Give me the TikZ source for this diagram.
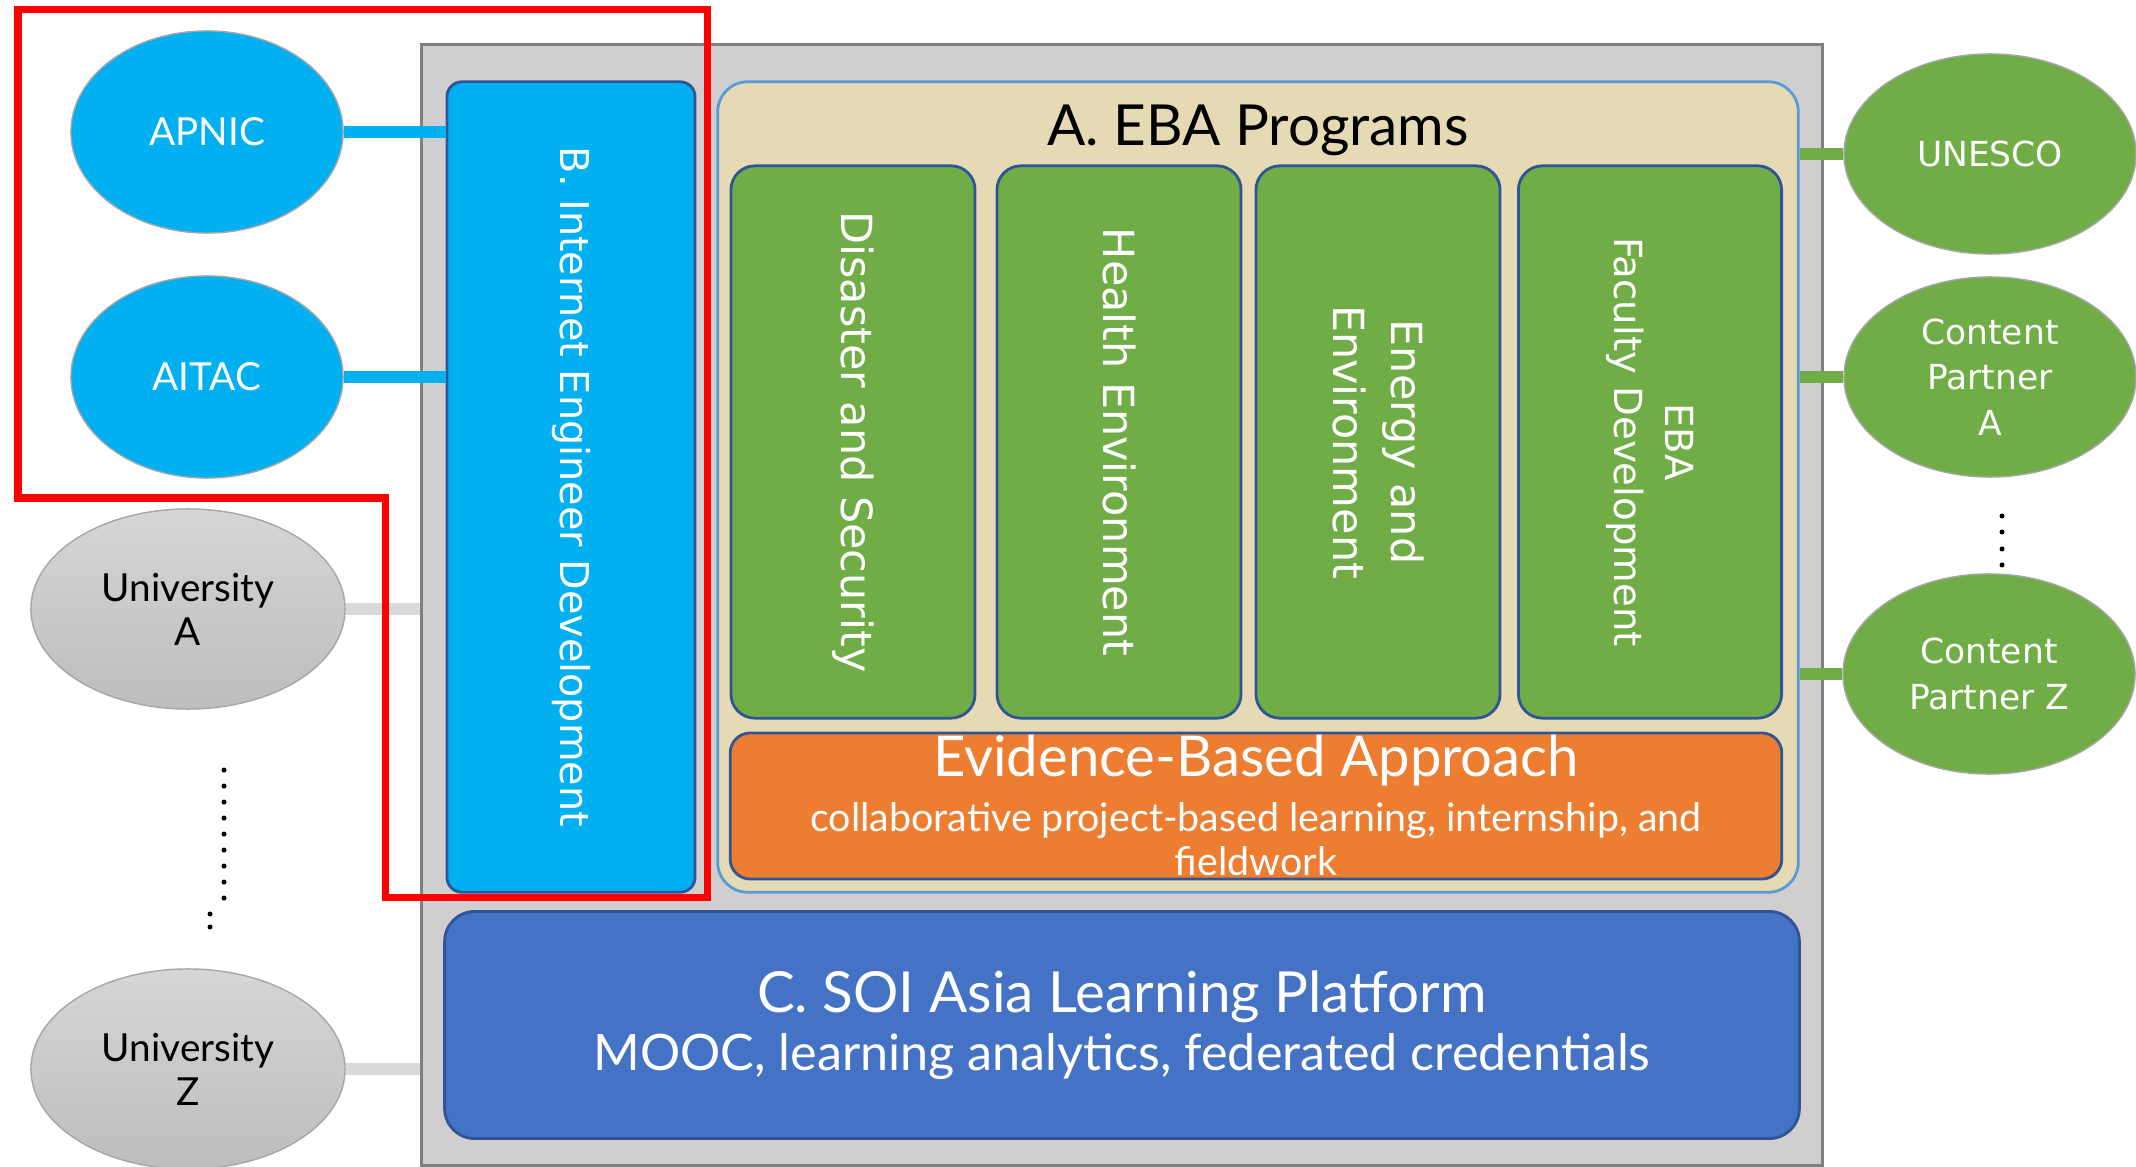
\documentclass[tikz,border=0pt]{standalone}
\usepackage{fontspec}
\setmainfont{Lato}
\newfontfamily\widefont{DejaVu Sans}
\usetikzlibrary{shapes.geometric}
\definecolor{soigray}{HTML}{D0CECE}
\definecolor{framegray}{HTML}{7F7F7F}
\definecolor{ieblue}{HTML}{00B0F0}
\definecolor{edgeblue}{HTML}{2F5597}
\definecolor{ebatan}{HTML}{E6DAB4}
\definecolor{tanline}{HTML}{5B9BD5}
\definecolor{ebagreen}{HTML}{70AD47}
\definecolor{ebaorange}{HTML}{ED7D31}
\definecolor{lpblue}{HTML}{4472C4}
\definecolor{unitop}{HTML}{D6D6D6}
\definecolor{unibot}{HTML}{BDBDBD}
\definecolor{unilink}{HTML}{D9D9D9}
\newcommand{\setfs}[2]{\fontsize{#1}{#2}\selectfont}
\begin{document}
\begin{tikzpicture}[x=0.01cm, y=-0.01cm,
  box/.style={rectangle, draw=edgeblue, line width=0.8pt, rounded corners=0.24cm, inner sep=0pt},
  prog/.style={box, fill=ebagreen, minimum width=2.44cm, minimum height=5.52cm},
  vtext/.style={rotate=-90, text=white, align=center, font=\widefont\setfs{12.2pt}{15.5pt}},
  blueorg/.style={ellipse, draw=gray!70, fill=ieblue, minimum width=2.72cm, minimum height=2.02cm, text=white, font=\setfs{11pt}{13pt}},
  uni/.style={ellipse, draw=gray!70, top color=unitop, bottom color=unibot, minimum width=3.14cm, minimum height=2cm, align=center, font=\setfs{11pt}{12.5pt}},
  partner/.style={ellipse, draw=gray!70, fill=ebagreen, minimum width=2.92cm, minimum height=2cm, text=white, align=center, font=\widefont\setfs{9.8pt}{13pt}},
  link/.style={-, line width=0.12cm}]
\useasboundingbox (0,0) rectangle (2136,1167);

\node[rectangle, draw=framegray, line width=0.8pt, fill=soigray, minimum width=14cm, minimum height=11.2cm] (frame) at (1122,605) {};

\node[box, fill=ieblue, rounded corners=0.15cm, minimum width=2.48cm, minimum height=8.1cm] (bbox) at (571,487) {};
\node[vtext, font=\widefont\setfs{11.3pt}{14pt}] (btext) at (bbox) {B. Internet Engineer Development};

\node[box, draw=tanline, fill=ebatan, rounded corners=0.3cm, minimum width=10.8cm, minimum height=8.1cm] (abox) at (1258,487) {};
\node[anchor=base, font=\setfs{16.1pt}{19pt}] (atitle) at (1258,146) {A. EBA Programs};

\node[prog] (disaster) at (853,442) {};
\node[prog] (health) at (1119,442) {};
\node[prog] (energy) at (1378,442) {};
\node[prog, minimum width=2.63cm] (faculty) at (1650,442) {};
\node[vtext] (disastertext) at (disaster) {Disaster and Security};
\node[vtext] (healthtext) at (health) {Health Environment};
\node[vtext, font=\widefont\setfs{12.2pt}{16.5pt}] (energytext) at (energy) {Energy and\\Environment};
\node[vtext, font=\widefont\setfs{11pt}{14.5pt}] (facultytext) at (faculty) {EBA\\Faculty Development};

\node[box, fill=ebaorange, rounded corners=0.2cm, minimum width=10.51cm, minimum height=1.46cm] (eba) at (1256,806) {};
\node[anchor=base, text=white, font=\setfs{16pt}{19pt}] (ebatitle) at (1256,776) {Evidence-Based Approach};
\node[text=white, align=center, font=\setfs{11.2pt}{12.4pt}] (ebasub) at (1256,839) {collaborative project-based learning, internship, and\\fieldwork};

\node[box, fill=lpblue, rounded corners=0.3cm, minimum width=13.54cm, minimum height=2.27cm] (lms) at (1122,1025) {};
\node[anchor=base, text=white, font=\setfs{16.1pt}{19pt}] (lmstitle) at (1122,1012) {C. SOI Asia Learning Platform};
\node[anchor=base, text=white, font=\setfs{14.3pt}{17pt}] (lmssub) at (1122,1070) {MOOC, learning analytics, federated credentials};

\node[blueorg] (apnic) at (207,132) {APNIC};
\node[blueorg] (aitac) at (207,377) {AITAC};
\node[uni] (unia) at (188,609) {University\\A};
\node[uni] (uniz) at (188,1069) {University\\Z};

\node[partner] (unesco) at (1990,154) {UNESCO};
\node[partner] (cpa) at (1990,377) {Content\\Partner\\A};
\node[partner] (cpz) at (1989,674) {Content\\Partner Z};

\path [link, draw=ieblue] (apnic) edge (apnic -| bbox.west);
\path [link, draw=ieblue] (aitac) edge (aitac -| bbox.west);
\path [link, draw=unilink] (unia) edge (unia -| frame.west);
\path [link, draw=unilink] (uniz) edge (uniz -| frame.west);
\path [link, draw=ebagreen] (unesco) edge (unesco -| abox.east);
\path [link, draw=ebagreen] (cpa) edge (cpa -| abox.east);
\path [link, draw=ebagreen] (cpz) edge (cpz -| abox.east);

\foreach \y in {770,786,...,898} \fill (224,\y) circle (0.025cm);
\foreach \y in {914,927} \fill (210,\y) circle (0.025cm);
\foreach \y in {516,532,549,565} \fill (2002,\y) circle (0.025cm);

\draw[red, line width=0.07cm] (18,10) -- (707,10) -- (707,897) -- (385,897) -- (385,498) -- (18,498) -- cycle;
\end{tikzpicture}
\end{document}
